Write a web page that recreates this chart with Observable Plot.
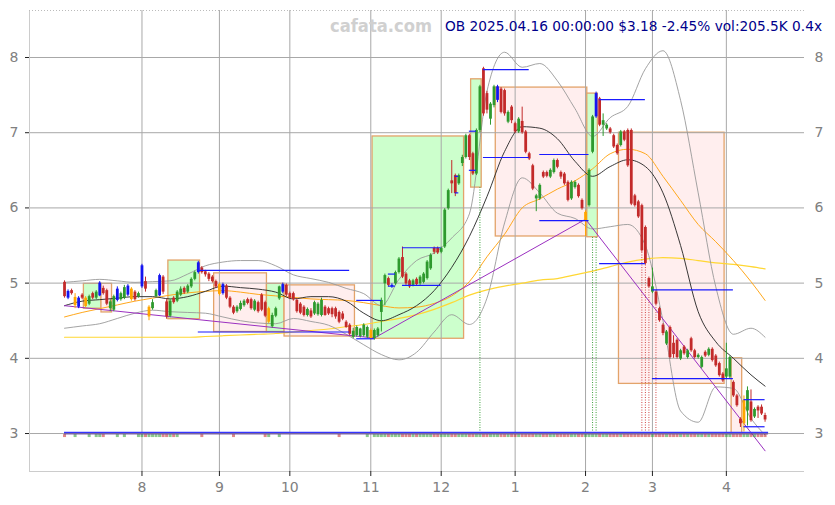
<!DOCTYPE html>
<html><head><meta charset="utf-8">
<script src="https://cdn.jsdelivr.net/npm/d3@7"></script>
<script src="https://cdn.jsdelivr.net/npm/@observablehq/plot@0.6"></script>
<style>
body{margin:0;background:#fff;}
#wrap{position:relative;width:835px;height:505px;}
#wrap svg{display:block;}
#head{position:absolute;left:0;top:0;pointer-events:none;overflow:visible;}
</style></head><body><div id="wrap"></div>
<script>
// ---- daily OHLC (trading-day index 0 = 2024-07-01, 199 = 2025-04-16) ----
const open = [5.01,4.80,4.90,4.70,4.68,4.84,4.69,4.72,4.86,4.80,
4.83,4.93,4.90,4.66,4.64,4.77,4.78,4.80,4.84,4.78,
4.88,4.82,4.95,5.02,4.55,4.66,4.82,4.83,5.08,4.75,
4.56,4.80,4.76,4.84,4.93,4.88,4.95,5.05,5.14,5.20,
5.15,5.12,5.08,5.02,4.85,4.86,4.96,4.80,4.68,4.62,
4.65,4.70,4.78,4.78,4.64,4.74,4.84,4.74,4.48,4.42,
4.56,4.79,4.88,4.97,4.86,4.86,4.77,4.72,4.68,4.57,
4.63,4.59,4.58,4.57,4.68,4.66,4.66,4.66,4.61,4.59,
4.48,4.44,4.28,4.30,4.29,4.30,4.28,4.26,4.26,4.30,
4.61,4.99,5.06,4.95,4.99,5.14,5.34,5.12,5.03,4.97,
5.05,4.99,5.01,5.06,5.19,5.46,5.46,5.41,5.48,5.99,
6.36,6.43,6.32,6.59,6.67,6.96,6.72,6.45,7.03,7.85,
7.52,7.18,7.36,7.43,7.58,7.56,7.14,7.34,7.12,7.01,
7.15,7.01,6.72,6.56,6.12,6.12,6.47,6.47,6.41,6.47,
6.63,6.47,6.45,6.34,6.12,6.27,6.30,6.10,5.83,6.03,
6.74,7.21,7.45,7.10,7.05,7.05,6.96,6.83,6.83,7.01,
7.03,7.03,6.16,6.08,6.03,5.74,5.06,4.88,4.88,4.66,
4.44,4.19,4.41,4.20,4.24,3.99,4.15,4.01,4.26,4.10,
4.01,3.88,4.08,4.04,4.12,4.03,3.93,3.79,3.75,3.75,
3.68,3.50,3.19,3.13,3.30,3.42,3.22,3.35,3.35,3.24];
const high = [5.03,4.91,4.92,4.86,4.82,4.86,4.82,4.84,4.88,4.90,
5.02,4.96,4.92,4.78,4.84,4.95,4.88,4.97,4.98,4.94,
4.90,4.88,5.25,5.08,4.70,4.78,4.92,5.12,5.10,4.78,
4.78,4.82,4.90,4.95,4.95,4.98,5.07,5.16,5.29,5.22,
5.17,5.14,5.10,5.04,5.00,5.00,4.98,4.82,4.70,4.70,
4.76,4.78,4.80,4.80,4.78,4.76,4.86,4.76,4.68,4.60,
4.68,4.96,5.00,4.99,4.88,4.88,4.79,4.74,4.70,4.67,
4.66,4.76,4.74,4.80,4.70,4.68,4.68,4.68,4.63,4.62,
4.50,4.46,4.40,4.43,4.40,4.46,4.43,4.39,4.39,4.41,
4.80,5.12,5.08,4.99,5.16,5.34,5.48,5.14,5.05,5.05,
5.07,5.10,5.14,5.30,5.39,5.48,5.48,5.48,5.99,6.25,
6.63,6.45,6.45,6.70,6.98,6.98,6.74,7.05,7.63,7.87,
7.55,7.40,7.63,7.63,7.60,7.58,7.29,7.36,7.14,7.20,
7.34,7.03,6.74,6.58,6.18,6.32,6.49,6.49,6.52,6.65,
6.65,6.49,6.47,6.36,6.36,6.36,6.32,6.12,5.96,6.52,
7.23,7.54,7.47,7.25,7.12,7.07,6.98,6.85,7.03,7.03,
7.05,7.05,6.18,6.10,6.05,5.76,5.08,5.20,4.90,4.68,
4.46,4.37,4.43,4.30,4.26,4.12,4.17,4.12,4.28,4.12,
4.06,4.03,4.10,4.14,4.14,4.05,3.95,3.81,4.20,4.03,
3.70,3.52,3.21,3.50,3.62,3.58,3.34,3.37,3.38,3.27];
const low = [4.80,4.78,4.84,4.66,4.66,4.78,4.67,4.70,4.78,4.78,
4.82,4.84,4.70,4.62,4.62,4.75,4.76,4.78,4.82,4.76,
4.76,4.80,4.93,4.88,4.50,4.64,4.80,4.82,4.85,4.52,
4.54,4.72,4.74,4.82,4.85,4.86,4.93,5.03,5.12,5.12,
5.08,5.02,5.00,4.93,4.83,4.84,4.78,4.66,4.58,4.60,
4.63,4.68,4.71,4.64,4.62,4.60,4.62,4.54,4.46,4.40,
4.54,4.77,4.86,4.82,4.78,4.76,4.60,4.58,4.55,4.55,
4.53,4.57,4.56,4.55,4.56,4.57,4.54,4.52,4.46,4.50,
4.40,4.30,4.26,4.28,4.27,4.28,4.26,4.24,4.24,4.28,
4.35,4.70,4.95,4.93,4.97,5.12,5.06,4.97,4.93,4.95,
4.96,4.97,4.99,5.04,5.17,5.38,5.38,5.39,5.46,5.97,
6.19,6.15,6.30,6.55,6.65,6.63,6.43,6.43,7.00,7.22,
7.25,7.10,7.33,7.40,7.25,7.22,7.12,7.12,6.99,6.99,
6.98,6.72,6.63,6.23,5.95,6.10,6.39,6.40,6.39,6.45,
6.52,6.38,6.30,6.08,6.10,6.25,6.13,5.97,5.62,6.01,
6.72,7.19,7.08,6.95,7.03,6.98,6.79,6.70,6.81,6.88,
6.54,6.03,6.01,5.86,5.41,5.24,4.93,4.86,4.70,4.48,
4.30,4.17,3.99,4.00,3.99,3.97,4.04,3.99,4.08,3.99,
3.99,3.86,4.01,4.02,3.95,3.88,3.75,3.68,3.73,3.73,
3.48,3.35,3.08,3.02,3.10,3.15,3.20,3.20,3.24,3.15];
const close = [4.82,4.89,4.86,4.81,4.80,4.80,4.80,4.82,4.80,4.88,
5.00,4.86,4.72,4.75,4.82,4.92,4.86,4.94,4.96,4.92,
4.78,4.86,5.23,4.92,4.68,4.74,4.90,5.10,4.88,4.55,
4.76,4.74,4.88,4.92,4.87,4.96,5.05,5.14,5.27,5.14,
5.11,5.05,5.02,4.95,4.98,4.98,4.80,4.68,4.60,4.68,
4.73,4.76,4.73,4.66,4.76,4.62,4.64,4.56,4.66,4.57,
4.66,4.95,4.98,4.84,4.80,4.78,4.62,4.60,4.57,4.65,
4.55,4.74,4.72,4.77,4.57,4.59,4.58,4.55,4.48,4.52,
4.41,4.32,4.36,4.41,4.39,4.44,4.41,4.37,4.37,4.39,
4.77,5.10,4.97,4.97,5.14,5.32,5.08,4.99,4.95,5.03,
4.98,5.08,5.12,5.28,5.37,5.41,5.40,5.46,5.97,6.23,
6.32,6.19,6.43,6.67,6.96,6.67,6.45,7.03,7.61,7.25,
7.30,7.38,7.61,7.61,7.27,7.25,7.27,7.16,7.01,7.18,
7.00,6.74,6.65,6.25,6.16,6.30,6.41,6.42,6.50,6.63,
6.54,6.41,6.32,6.10,6.34,6.34,6.15,5.99,5.94,6.50,
7.21,7.52,7.10,7.16,7.10,7.00,6.81,6.72,7.01,6.90,
6.56,6.05,6.03,5.88,5.43,5.26,4.95,4.95,4.72,4.50,
4.33,4.35,4.01,4.05,4.01,4.10,4.06,4.10,4.10,4.01,
4.04,4.01,4.03,4.12,3.97,3.90,3.77,3.70,3.86,4.01,
3.50,3.37,3.13,3.44,3.57,3.17,3.32,3.30,3.26,3.18];

const blueDays = [1,4,10,15,18,22,27,38,45,62,93,123,151];
const orangeDays = [3,6,19,24,44,58,87,148,193];

// ---- month ticks ----
const monthStarts = [22,44,64,87,107,128,148,167,188];
const monthLabels = ["8","9","10","11","12","1","2","3","4"];
const priceTicks = [3,4,5,6,7,8];

// ---- indicator lines, read every 5 trading days ----
const lineDays = [0,5,10,15,20,25,30,35,40,45,50,55,60,65,70,75,80,85,90,95,100,105,110,115,120,125,130,135,140,145,150,155,160,165,170,175,180,185,190,195,199];
const maMid = [4.70,4.76,4.78,4.80,4.82,4.82,4.79,4.82,4.89,4.96,
4.94,4.92,4.88,4.79,4.82,4.82,4.76,4.60,4.50,4.58,
4.70,4.90,5.21,5.62,6.15,6.75,7.08,7.06,6.92,6.62,
6.42,6.55,6.64,6.55,6.20,5.50,4.62,4.22,4.00,3.78,3.63];
const bandUpper = [5.01,5.03,5.05,5.03,5.01,5.02,5.03,5.12,5.23,5.28,
5.30,5.30,5.23,5.11,5.06,5.01,4.93,4.86,4.70,5.05,
5.30,5.40,5.60,5.92,7.55,8.07,7.87,7.92,7.69,7.32,
6.95,7.20,7.35,7.85,8.09,7.43,6.20,4.95,4.32,4.40,4.28];
const bandLower = [4.40,4.43,4.46,4.53,4.60,4.64,4.62,4.61,4.60,4.55,
4.50,4.47,4.46,4.53,4.49,4.44,4.32,4.18,4.05,3.98,
4.08,4.35,4.58,4.45,4.80,5.80,6.40,6.20,5.93,5.86,
5.72,5.75,5.78,5.50,4.50,3.30,3.15,3.62,3.60,3.20,2.98];
const maSlow = [4.55,4.61,4.66,4.71,4.76,4.80,4.84,4.87,4.89,4.90,
4.88,4.85,4.83,4.81,4.79,4.78,4.77,4.74,4.70,4.67,
4.68,4.73,4.83,5.02,5.35,5.65,6.00,6.12,6.25,6.36,
6.52,6.72,6.78,6.72,6.42,6.10,5.78,5.55,5.30,5.02,4.77];
const maLong = [4.28,4.28,4.28,4.28,4.28,4.28,4.28,4.28,4.29,4.30,
4.31,4.32,4.33,4.35,4.37,4.39,4.42,4.45,4.49,4.53,
4.58,4.65,4.74,4.84,4.91,4.96,5.00,5.04,5.06,5.11,
5.16,5.22,5.28,5.32,5.34,5.33,5.30,5.27,5.25,5.22,5.19];

// ---- trend line (purple) ----
const trendDays = [0,88,148,199];
const trendVals = [4.70,4.27,5.85,2.77];

// ---- range boxes ----
const boxStart = [6,11,30,43,58,63,88,116,123,149,158,190];
const boxEnd   = [10,13,38,57,62,82,113,118,148,151,187,192];
const boxLow   = [4.66,4.61,4.52,4.35,4.35,4.29,4.26,6.27,5.62,5.61,3.66,3.00];
const boxHigh  = [4.99,4.99,5.30,5.13,4.99,4.97,6.95,7.71,7.60,7.52,7.00,4.00];
const boxType  = ["up","down","up","down","up","down","up","up","down","up","down","down"];

// ---- blue level segments ----
const lvlStart = [38,38,83,83,92,92,96,96,111,111,115,115,119,119,135,135,152,152,167,167,193,193];
const lvlEnd   = [81,81,88,90,94,94,107,107,112,112,117,117,132,132,149,149,165,165,190,190,199,199];
const lvlPrice = [5.17,4.35,4.26,4.77,5.12,4.96,5.47,4.97,6.42,6.20,7.02,6.50,7.84,6.67,6.71,5.83,7.44,5.26,4.91,3.73,3.45,3.09];

// ---- signal days (dotted verticals) ----
const sigDays = [118,150,151,164,165,166,168];
const sigTop  = [6.27,5.61,5.61,5.41,5.24,4.93,4.70];
const sigType = ["up","up","up","down","down","down","down"];

// ---- bottom marker days ----
const markDays = [0,3,7,9,10,11,15,17,21,22,23,24,25,26,27,28,29,30,31,32,39,48,57,58,61,78,86];
const baseLevel = 3.0;

// ================= build =================
const xDom = [-9.95, 210.2], yDom = [2.495, 8.625];
const C = {up:"#2e9a2e", down:"#c32a2a", blue:"#1414f0", orange:"#ffa500"};
const candles = close.map((c,i)=>({
  i, o:open[i], h:high[i], l:low[i], c,
  k: blueDays.includes(i) ? "blue" : orangeDays.includes(i) ? "orange" : (c >= open[i] ? "up" : "down")
}));
const lines = lineDays.map((d,j)=>({d, mid:maMid[j], up:bandUpper[j], lo:bandLower[j], slow:maSlow[j], long:maLong[j]}));
const trend = trendDays.map((d,j)=>({d, v:trendVals[j]}));
const boxes = boxStart.map((s,j)=>({s, e:boxEnd[j], lo:boxLow[j], hi:boxHigh[j], t:boxType[j]}));
const levels = lvlStart.map((s,j)=>({s, e:lvlEnd[j], p:lvlPrice[j]}));
const sigs = sigDays.map((d,j)=>({d, top:sigTop[j], t:sigType[j]}));
const allMarks = markDays.concat(d3.range(88, close.length));
const marks = allMarks.map(i=>({i, k: close[i] >= open[i] ? "up" : "down"}));
const lastDay = close.length - 1;
const intFmt = d => String(d);

const chart = Plot.plot({
  width: 835, height: 505,
  marginLeft: 29, marginRight: 31, marginTop: 10, marginBottom: 34,
  x: {domain: xDom, axis: null},
  y: {domain: yDom, axis: null},
  color: {type: "identity"},
  style: {fontFamily: "DejaVu Sans, sans-serif", fontSize: "14px", background: "#fff", overflow: "visible"},
  marks: [
    Plot.rect(boxes, {x1: d=>d.s-0.5, x2: d=>d.e+0.5, y1:"lo", y2:"hi",
      fill: d=>d.t==="up" ? "#ccffcc" : "#ffeeee", stroke:"#e3a36a", strokeWidth:1.3}),
    Plot.gridY(priceTicks, {stroke:"#a8a8a8", strokeOpacity:1, strokeWidth:1}),
    Plot.gridX(monthStarts, {stroke:"#a8a8a8", strokeOpacity:1, strokeWidth:1}),
    Plot.ruleX([xDom[0]], {stroke:"#cccccc"}),
    Plot.ruleY([yDom[0]], {stroke:"#cccccc"}),
    Plot.ruleY([yDom[1]], {stroke:"#bbbbbb", strokeDasharray:"1,2"}),
    Plot.line(lines, {x:"d", y:"long", stroke:"#ffd733", strokeWidth:1.2, curve:"monotone-x"}),
    Plot.line(lines, {x:"d", y:"slow", stroke:"#ffa81c", strokeWidth:1, curve:"monotone-x"}),
    Plot.line(lines, {x:"d", y:"up", stroke:"#999999", strokeWidth:0.9, curve:"monotone-x"}),
    Plot.line(lines, {x:"d", y:"lo", stroke:"#999999", strokeWidth:0.9, curve:"monotone-x"}),
    Plot.line(lines, {x:"d", y:"mid", stroke:"#222222", strokeWidth:0.9, curve:"monotone-x"}),
    Plot.line(trend, {x:"d", y:"v", stroke:"#9b30c0", strokeWidth:1}),
    Plot.ruleX(sigs, {x:"d", y1: ()=>baseLevel, y2:"top", stroke: d=>d.t==="up" ? "#3aa03a" : "#d04545", strokeWidth:1, strokeDasharray:"1,1.5"}),
    Plot.ruleX(candles, {x:"i", y1:"l", y2:"h", stroke: d=>C[d.k], strokeWidth:1}),
    Plot.ruleX(candles, {x:"i", y1:"o", y2:"c", stroke: d=>C[d.k], strokeWidth:2.8}),
    Plot.ruleY(levels, {x1:"s", x2:"e", y:"p", stroke:"#1a1aff", strokeWidth:1.2}),
    Plot.dot(marks, {x:"i", y: ()=>baseLevel - 0.027, symbol:"square", r:1.7, fill: d=>C[d.k], fillOpacity:0.55, stroke:"none"}),
    Plot.ruleY([baseLevel + 0.015], {x1: 0, x2: lastDay + 1, stroke:"#3535ff", strokeWidth:1.2}),
    Plot.ruleY([baseLevel - 0.005], {x1: 0, x2: lastDay + 1, stroke:"#5a3a9a", strokeWidth:1}),
    Plot.axisX(monthStarts, {anchor:"bottom", tickSize:5, tickPadding:6, stroke:"#222", fill:"#808080", fontSize:14,
      tickFormat: d => monthLabels[monthStarts.indexOf(d)]}),
    Plot.axisY(priceTicks, {anchor:"left", tickSize:4, tickPadding:7, stroke:"#222", fill:"#808080", fontSize:14, tickFormat:intFmt}),
    Plot.axisY(priceTicks, {anchor:"right", tickSize:0, tickPadding:10, fill:"#808080", fontSize:14, tickFormat:intFmt})
  ]
});
const wrap = document.getElementById("wrap");
wrap.appendChild(chart);

// header texts
const NS = "http://www.w3.org/2000/svg";
const head = document.createElementNS(NS, "svg");
head.setAttribute("id","head"); head.setAttribute("width","835"); head.setAttribute("height","60");
function addText(str, x, y, size, weight, fill, len){
  const t = document.createElementNS(NS, "text");
  t.setAttribute("x", x); t.setAttribute("y", y);
  t.setAttribute("font-family", "DejaVu Sans, sans-serif");
  t.setAttribute("font-size", size); t.setAttribute("font-weight", weight);
  t.setAttribute("fill", fill);
  t.setAttribute("textLength", len); t.setAttribute("lengthAdjust", "spacingAndGlyphs");
  t.textContent = str; head.appendChild(t);
}
addText("cafata.com", 330, 32, 17, "bold", "#d0d0d0", 102);
addText("OB 2025.04.16 00:00:00 $3.18 -2.45% vol:205.5K 0.4x", 445, 31, 14, "normal", "#00008b", 377);
wrap.appendChild(head);
</script>
</body></html>
